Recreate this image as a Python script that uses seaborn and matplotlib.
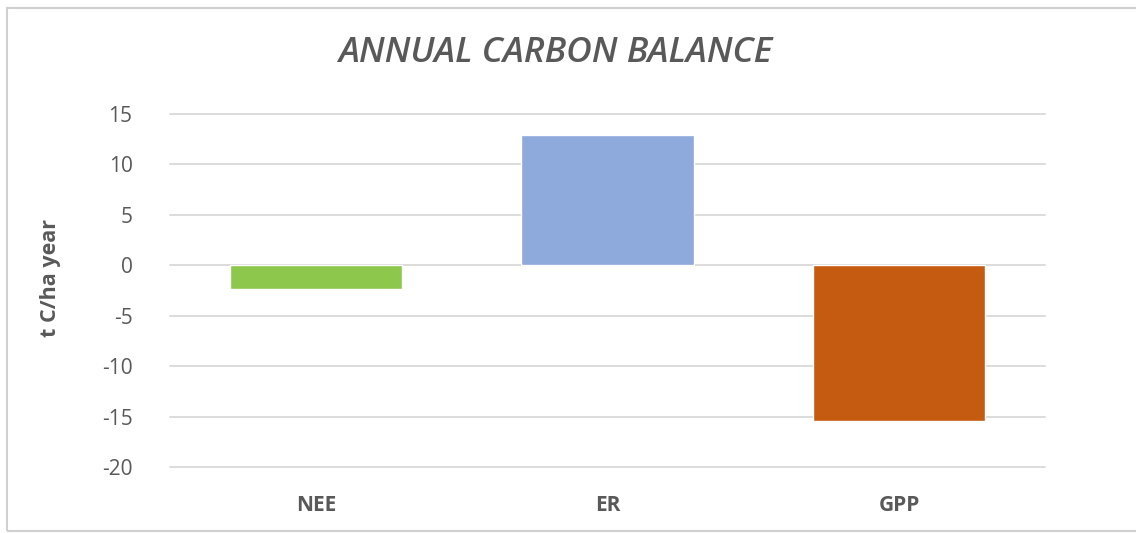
import matplotlib
matplotlib.use("Agg")
import matplotlib.pyplot as plt
from matplotlib.patches import Rectangle
import seaborn as sns
import pandas as pd

# Annual carbon balance components (t C/ha year)
categories = ["NEE", "ER", "GPP"]
values = [-2.4, 12.9, -15.4]
bar_colors = ["#8DC84D", "#8EA9DB", "#C55A11"]
y_ticks = [-20, -15, -10, -5, 0, 5, 10, 15]

sns.set_theme(style="white")
plt.rcParams["font.family"] = ["Open Sans", "DejaVu Sans"]

text_gray = "#595959"
grid_gray = "#D9D9D9"

df = pd.DataFrame({"component": categories, "flux": values})

fig = plt.figure(figsize=(11.36, 5.33), dpi=100)
ax = fig.add_axes([170 / 1136, 1 - 467 / 533, (1045 - 170) / 1136, (467 - 114) / 533])

for t in y_ticks:
    ax.axhline(t, color=grid_gray, lw=1.3, zorder=0, clip_on=False)

sns.barplot(data=df, x="component", y="flux", hue="component",
            palette=bar_colors, width=0.59, saturation=1, legend=False,
            ax=ax, zorder=2)

ax.set_ylim(-20, 15)
ax.set_xlim(-0.5, 2.5)
ax.set_yticks(y_ticks)
ax.set_yticklabels([str(t) for t in y_ticks])
ax.tick_params(axis="y", length=0, pad=27, labelsize=15, labelcolor=text_gray)
ax.tick_params(axis="x", length=0, pad=20, labelsize=15, labelcolor=text_gray)
for lbl in ax.get_xticklabels():
    lbl.set_fontweight("bold")
ax.set_xlabel("")
ax.set_ylabel("t C/ha year", fontsize=15.5, fontweight="bold", color=text_gray)
ax.yaxis.set_label_coords(-0.125, 0.534)
for s in ax.spines.values():
    s.set_visible(False)

fig.text(555 / 1136, 1 - 53 / 533, "ANNUAL CARBON BALANCE", ha="center", va="center",
         fontsize=25.5, style="italic", fontweight="semibold", color=text_gray)

# chart frame
fig.patches.append(Rectangle((7 / 1136, 1 - 531 / 533), 1.2, (531 - 8) / 533,
                             transform=fig.transFigure, fill=False,
                             edgecolor="#D0D0D0", lw=1.5))

fig.savefig("out.png", dpi=100)
